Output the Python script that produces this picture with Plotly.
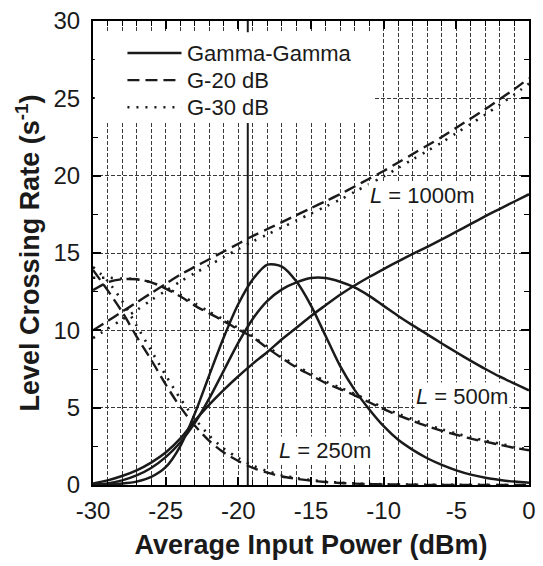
import plotly.graph_objects as go

# ---------------- data ----------------
X_DBM = [-30, -29, -28, -27, -26, -25, -24, -23, -22, -21, -20,
         -19, -18, -17, -16, -15, -14, -13, -12, -11, -10,
         -9, -8, -7, -6, -5, -4, -3, -2, -1, 0]

# Gamma-Gamma (solid)
GG_250 = [0.02, 0.05, 0.10, 0.22, 0.52, 1.15, 2.5, 4.6, 7.1, 9.55, 11.7,
          13.3, 14.25, 14.12, 13.15, 11.6, 9.65, 7.7, 6.15, 4.9, 3.8,
          2.92, 2.27, 1.73, 1.3, 0.95, 0.67, 0.47, 0.33, 0.22, 0.15]
GG_500 = [0.03, 0.10, 0.30, 0.62, 1.1, 1.8, 2.75, 4.0, 5.6, 7.4, 9.2,
          10.75, 11.9, 12.65, 13.1, 13.38, 13.38, 13.14, 12.77, 12.23, 11.58,
          10.93, 10.32, 9.74, 9.15, 8.58, 8.03, 7.5, 7.0, 6.55, 6.12]
GG_1000 = [0.10, 0.30, 0.58, 0.95, 1.45, 2.1, 3.0, 4.15, 5.2, 6.15, 7.03,
           7.85, 8.6, 9.42, 10.17, 10.93, 11.62, 12.3, 12.9, 13.45, 13.96,
           14.46, 14.94, 15.4, 15.88, 16.38, 16.88, 17.38, 17.86, 18.33, 18.8]

# G-20 dB (dashed)
G20_250 = [13.9, 12.6, 11.2, 9.6, 8.1, 6.5, 5.05, 3.85, 2.85, 2.1, 1.55,
           1.1, 0.8, 0.55, 0.4, 0.28, 0.19, 0.13, 0.09, 0.06, 0.04,
           0.03, 0.02, 0.01, 0.01, 0.01, 0.01, 0.0, 0.0, 0.0, 0.0]
G20_500 = [12.6, 13.1, 13.3, 13.3, 13.1, 12.7, 12.2, 11.6, 11.1, 10.6, 10.05,
           9.55, 8.85, 8.2, 7.6, 7.1, 6.6, 6.2, 5.8, 5.35, 4.9,
           4.5, 4.15, 3.8, 3.5, 3.25, 3.0, 2.8, 2.6, 2.4, 2.25]
G20_1000 = [10.0, 10.6, 11.2, 11.8, 12.4, 13.0, 13.6, 14.1, 14.6, 15.1, 15.6,
            16.1, 16.55, 17.0, 17.45, 17.9, 18.35, 18.8, 19.3, 19.8, 20.3,
            20.85, 21.4, 21.95, 22.5, 23.1, 23.7, 24.3, 24.95, 25.6, 26.3]

# G-30 dB (dotted)
G30_250 = [14.1, 13.2, 11.9, 10.3, 8.7, 7.1, 5.6, 4.3, 3.2, 2.35, 1.75,
           1.25, 0.9, 0.63, 0.45, 0.32, 0.22, 0.15, 0.1, 0.07, 0.05,
           0.04, 0.03, 0.02, 0.02, 0.01, 0.01, 0.01, 0.0, 0.0, 0.0]
G30_500 = [13.4, 13.4, 13.35, 13.3, 13.1, 12.75, 12.3, 11.75, 11.2, 10.7, 10.15,
           9.6, 8.95, 8.3, 7.7, 7.2, 6.7, 6.3, 5.9, 5.45, 5.0,
           4.6, 4.25, 3.9, 3.6, 3.33, 3.08, 2.87, 2.67, 2.47, 2.3]
G30_1000 = [9.5, 10.1, 10.7, 11.3, 11.95, 12.55, 13.15, 13.7, 14.2, 14.75, 15.25,
            15.75, 16.2, 16.65, 17.1, 17.55, 18.0, 18.45, 18.95, 19.45, 19.95,
            20.5, 21.05, 21.6, 22.15, 22.75, 23.35, 23.95, 24.6, 25.25, 25.95]

VLINE_X = [-19.35, -19.35]
VLINE_Y = [0, 30]

X_TICKS = [-30, -25, -20, -15, -10, -5, 0]
X_TICK_LABELS = ['-30', '-25', '-20', '-15', '-10', '-5', '0']
Y_TICKS = [0, 5, 10, 15, 20, 25, 30]
Y_TICK_LABELS = ['0', '5', '10', '15', '20', '25', '30']

SERIES_NAMES = ['Gamma-Gamma', 'G-20 dB', 'G-30 dB']
CURVE_LABELS = ['<i>L</i> = 250m', '<i>L</i> = 500m', '<i>L</i> = 1000m']
LABEL_X = [-14.05, -4.6, -7.3]
LABEL_Y = [2.25, 5.7, 18.75]

# ---------------- figure ----------------
FONT = 'Liberation Sans, Arial, sans-serif'
INK = '#1a1a1a'

fig = go.Figure()

fig.add_trace(go.Scatter(x=VLINE_X, y=VLINE_Y, mode='lines',
                         line=dict(color=INK, width=2), showlegend=False,
                         hoverinfo='skip'))

styles = [dict(dash='solid', width=2.5),
          dict(dash='12px,6px', width=2.4),
          dict(dash='2px,7px', width=2.6)]
groups = [
    [GG_1000, GG_500, GG_250],
    [G20_1000, G20_500, G20_250],
    [G30_1000, G30_500, G30_250],
]
for name, st, ser in zip(SERIES_NAMES, styles, groups):
    for i, y in enumerate(ser):
        fig.add_trace(go.Scatter(
            x=X_DBM, y=y, mode='lines', name=name, legendgroup=name,
            showlegend=False,
            line=dict(color=INK, width=st['width'], dash=st['dash'],
                      shape='spline', smoothing=0.8)))

for txt, lx, ly in zip(CURVE_LABELS, LABEL_X, LABEL_Y):
    fig.add_annotation(x=lx, y=ly, text=txt, showarrow=False,
                       font=dict(family=FONT, size=22, color=INK),
                       bgcolor='white', borderpad=1)

# legend box (white) with sample lines and entry texts
LEG_X0, LEG_X1 = 0.079, 0.203
LEG_TEXT_X = 0.212
LEG_ROWS_Y = [0.931, 0.8725, 0.814]
shapes = [dict(type='rect', xref='paper', yref='paper',
               x0=0.004, x1=0.643, y0=0.78, y1=0.976,
               fillcolor='white', line=dict(width=0), layer='above')]
for name, st, ry in zip(SERIES_NAMES, styles, LEG_ROWS_Y):
    shapes.append(dict(type='line', xref='paper', yref='paper',
                       x0=LEG_X0, x1=LEG_X1, y0=ry, y1=ry, layer='above',
                       line=dict(color=INK, width=st['width'],
                                 dash=st['dash'])))
    fig.add_annotation(xref='paper', yref='paper', x=LEG_TEXT_X, y=ry,
                       xanchor='left', yanchor='middle', text=name,
                       showarrow=False,
                       font=dict(family=FONT, size=22, color=INK))

grid = dict(gridcolor='#3a3a3a', gridwidth=1, griddash='4px,2px')

fig.update_layout(
    width=543, height=566,
    margin=dict(l=93, r=7, t=21, b=81),
    paper_bgcolor='white', plot_bgcolor='white',
    font=dict(family=FONT, color='black'),
    showlegend=False,
    shapes=shapes,
    xaxis=dict(range=[-30, 0], tickmode='array', tickvals=X_TICKS,
               ticktext=X_TICK_LABELS, ticks='inside', ticklen=8,
               tickwidth=1.5, tickcolor='black',
               showline=True, linewidth=2, linecolor='black', mirror='ticks',
               showgrid=True, zeroline=False, ticklabelstandoff=3,
               tickfont=dict(family=FONT, size=24, color=INK),
               minor=dict(tickmode='linear', tick0=0, dtick=1, ticks='inside',
                          ticklen=5, tickcolor='black', tickwidth=1.2,
                          showgrid=True, **grid),
               title=dict(text='<b>Average Input Power (dBm)</b>',
                          font=dict(family=FONT, size=27, color=INK),
                          standoff=12),
               **grid),
    yaxis=dict(range=[0, 30], tickmode='array', tickvals=Y_TICKS,
               ticktext=Y_TICK_LABELS, ticks='inside', ticklen=8,
               tickwidth=1.5, tickcolor='black',
               showline=True, linewidth=2, linecolor='black', mirror='ticks',
               showgrid=True, zeroline=False, ticklabelstandoff=6,
               tickfont=dict(family=FONT, size=24, color=INK),
               minor=dict(tickmode='linear', tick0=0, dtick=2.5,
                          ticks='inside', ticklen=5, tickcolor='black',
                          tickwidth=1.2, showgrid=False),
               title=dict(text='<b>Level Crossing Rate (s<sup>-1</sup>)</b>',
                          font=dict(family=FONT, size=27, color=INK),
                          standoff=6),
               **grid),
)

fig.write_html('out.html')
